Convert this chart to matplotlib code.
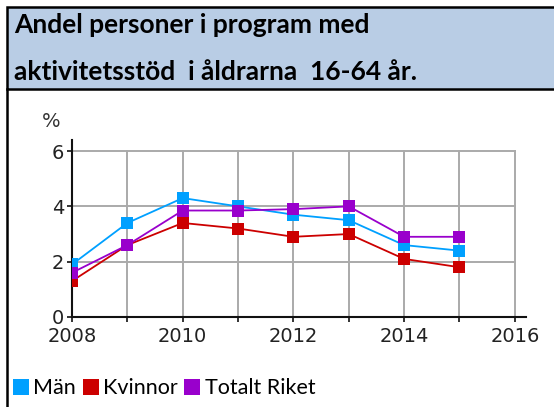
import matplotlib
matplotlib.use('Agg')
import matplotlib.pyplot as plt
from matplotlib.patches import Rectangle
from matplotlib.lines import Line2D

# Data
years = [2008, 2009, 2010, 2011, 2012, 2013, 2014, 2015]
man = [1.9, 3.4, 4.3, 4.0, 3.7, 3.5, 2.6, 2.4]
kvinnor = [1.3, 2.6, 3.4, 3.2, 2.9, 3.0, 2.1, 1.8]
totalt = [1.6, 2.6, 3.85, 3.85, 3.9, 4.0, 2.9, 2.9]

series = [('Män', man, '#00a0ff'),
          ('Kvinnor', kvinnor, '#cc0000'),
          ('Totalt Riket', totalt, '#9900cc')]

title_lines = ['Andel personer i program med', 'aktivitetsstöd  i åldrarna  16-64 år.']
x_ticks = [2008, 2010, 2012, 2014, 2016]
y_ticks = [0, 2, 4, 6]

fig = plt.figure(figsize=(5.54, 4.07), dpi=100)

# Title box
fig.patches.append(Rectangle((7 / 554, 1 - 89 / 407), 1.0, 82 / 407,
                             transform=fig.transFigure, facecolor='#b9cde5',
                             edgecolor='black', linewidth=1.8, zorder=0))
fig.lines.append(Line2D([7 / 554, 7 / 554], [0, 1 - 89 / 407],
                        transform=fig.transFigure, color='black', linewidth=1.8))
fig.text(14 / 554, 1 - 33 / 407, title_lines[0], fontsize=19, fontweight='bold',
         family='Lato', color='black', va='baseline')
fig.text(14 / 554, 1 - 80 / 407, title_lines[1], fontsize=19, fontweight='bold',
         family='Lato', color='black', va='baseline')

ax = fig.add_axes([72 / 554, 90 / 407, 453.9 / 554, 177 / 407])
ax.set_xlim(2008, 2016.2)
ax.set_ylim(0, 6.4)

# grid only inside 2008-2016 x 0-6
for yv in y_ticks[1:]:
    ax.plot([2008, 2016], [yv, yv], color='#aaaaaa', lw=1.4, zorder=1)
for xv in range(2009, 2017):
    ax.plot([xv, xv], [0, 6], color='#aaaaaa', lw=1.4, zorder=1)

for name, vals, col in series:
    ax.plot(years, vals, color=col, lw=1.3, marker='s', markersize=8.5,
            markeredgewidth=0, zorder=3)

for s in ['top', 'right']:
    ax.spines[s].set_visible(False)
for s in ['left', 'bottom']:
    ax.spines[s].set_linewidth(1.5)
    ax.spines[s].set_color('#111111')

ax.set_xticks(x_ticks)
ax.set_xticks(range(2009, 2016, 2), minor=True)
ax.set_yticks(y_ticks)
ax.tick_params(axis='both', which='both', length=3.5, width=1.2, color='#111111',
               labelsize=14, labelcolor='#222222')
ax.tick_params(axis='x', pad=4)
ax.tick_params(axis='y', pad=2)
ax.text(-0.046, 1.05, '%', transform=ax.transAxes, fontsize=14, color='#333333',
        ha='center', va='bottom')

handles = [Line2D([], [], marker='s', linestyle='none', markersize=12,
                  markeredgewidth=0, color=col) for _, _, col in series]
fig.legend(handles, [n for n, _, _ in series], loc='lower left',
           bbox_to_anchor=(0 / 554, -4 / 407), ncol=3, frameon=False,
           prop={'family': 'Lato', 'size': 15.5}, handlelength=0.75,
           handletextpad=0.2, columnspacing=0.3, borderaxespad=0.2)

fig.savefig('out.png', dpi=100)
